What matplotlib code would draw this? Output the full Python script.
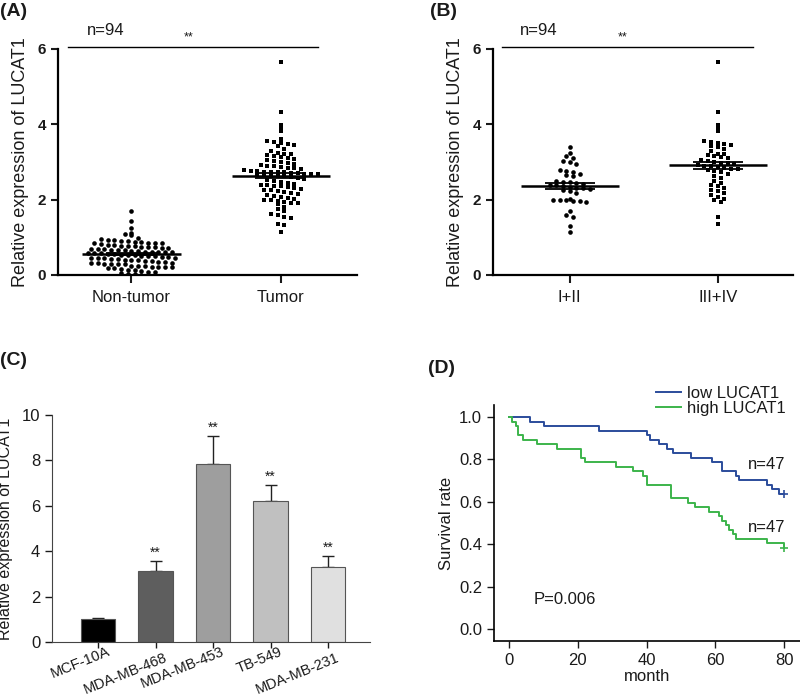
import matplotlib
matplotlib.use('Agg')
import numpy as np
import matplotlib.pyplot as plt

plt.rcParams['font.family'] = ['Liberation Sans', 'DejaVu Sans']
plt.rcParams['text.color'] = '#1a1a1a'
plt.rcParams['axes.labelcolor'] = '#1a1a1a'
plt.rcParams['xtick.color'] = '#1a1a1a'
plt.rcParams['ytick.color'] = '#1a1a1a'

# (A) LUCAT1 expression, tissue
non_tumor = [1.71, 1.44, 1.24, 1.12, 1.08, 1.05,
             0.98, 0.95, 0.93, 0.92, 0.90, 0.90, 0.88, 0.87, 0.86, 0.85, 0.85, 0.84,
             0.82, 0.80, 0.79, 0.78, 0.77, 0.76, 0.75, 0.74, 0.73, 0.72, 0.72,
             0.70, 0.69, 0.68, 0.67, 0.66, 0.65, 0.64, 0.63, 0.62, 0.62, 0.61, 0.60, 0.60,
             0.58, 0.58, 0.57, 0.56, 0.55, 0.54, 0.53, 0.52, 0.51, 0.50, 0.50,
             0.48, 0.47, 0.46, 0.45, 0.45, 0.44, 0.43, 0.42, 0.41, 0.40, 0.40, 0.38,
             0.36, 0.35, 0.34, 0.33, 0.32, 0.31, 0.30, 0.30, 0.29, 0.28,
             0.25, 0.24, 0.23, 0.22, 0.21, 0.20, 0.20, 0.19, 0.18,
             0.15, 0.13, 0.12, 0.10, 0.09, 0.08,
             0.05, 0.03, 0.02, 0.01]
tumor = [5.65, 4.33, 3.98, 3.88, 3.82,
         3.60, 3.55, 3.52, 3.50, 3.48, 3.45, 3.42, 3.35, 3.30,
         3.25, 3.22, 3.20, 3.18, 3.15, 3.12, 3.10, 3.08, 3.05, 3.02, 3.00,
         2.98, 2.95, 2.92, 2.90, 2.88, 2.86, 2.85, 2.83, 2.80,
         2.78, 2.76, 2.75, 2.74, 2.73, 2.72, 2.72, 2.71, 2.70, 2.69, 2.68, 2.67,
         2.66, 2.65, 2.64, 2.63, 2.62, 2.60, 2.58,
         2.55, 2.52, 2.50, 2.48,
         2.45, 2.42, 2.40, 2.38, 2.36, 2.35, 2.33, 2.30, 2.28, 2.26, 2.25, 2.22,
         2.20, 2.18, 2.15, 2.12, 2.10, 2.08,
         2.05, 2.02, 2.00, 1.98, 1.96, 1.95, 1.92, 1.90, 1.88,
         1.80, 1.75, 1.70, 1.62, 1.58, 1.55, 1.50, 1.35, 1.32, 1.15]
tissue_names = ['Non-tumor', 'Tumor']

# (B) by clinical stage
stage_12 = [3.41, 3.25, 3.15, 3.10, 3.02, 3.00, 2.95,
            2.78, 2.75, 2.72, 2.68, 2.65, 2.62,
            2.50, 2.48, 2.46, 2.44, 2.42, 2.40, 2.38, 2.36, 2.34, 2.32, 2.30, 2.28,
            2.26, 2.22, 2.18,
            2.02, 2.00, 1.99, 1.98, 1.97, 1.96, 1.95,
            1.70, 1.60, 1.55, 1.30, 1.15]
stage_34 = [5.65, 4.33, 3.98, 3.88, 3.82,
            3.55, 3.52, 3.50, 3.48, 3.45, 3.42, 3.40, 3.35, 3.30,
            3.22, 3.20, 3.18, 3.15, 3.12, 3.10, 3.05, 3.02, 3.00,
            2.98, 2.96, 2.94, 2.92, 2.90, 2.88, 2.86, 2.84, 2.82, 2.80,
            2.78, 2.75, 2.72, 2.68, 2.62, 2.58, 2.50,
            2.45, 2.40, 2.35, 2.30, 2.25, 2.22, 2.18, 2.12, 2.08,
            2.02, 1.98, 1.95, 1.55, 1.35]
stage_names = ['I+II', 'III+IV']

# (C) cell lines
cell_lines = ['MCF-10A', 'MDA-MB-468', 'MDA-MB-453', 'TB-549', 'MDA-MB-231']
cell_expr = [1.0, 3.12, 7.85, 6.22, 3.30]
cell_err = [0.07, 0.43, 1.22, 0.68, 0.48]
cell_colors = ['#000000', '#5e5e5e', '#9e9e9e', '#c0c0c0', '#e0e0e0']

# (D) Kaplan-Meier steps
low_t = [0, 6, 10, 26, 40.2, 41, 43.5, 46, 47.8, 53, 59, 62, 66, 67, 75, 76.5, 78.5, 80]
low_s = [1.0, 0.979, 0.957, 0.936, 0.915, 0.894, 0.872, 0.851, 0.830, 0.809,
         0.787, 0.745, 0.723, 0.702, 0.681, 0.660, 0.638, 0.638]
high_t = [0, 0.8, 1.9, 2.7, 3.9, 8, 14, 21, 22, 31, 36, 39, 40, 47, 52, 54, 58,
          61, 62, 63, 64, 65, 66, 75, 80]
high_s = [1.0, 0.979, 0.957, 0.915, 0.894, 0.872, 0.851, 0.809, 0.787, 0.766,
          0.745, 0.723, 0.681, 0.617, 0.596, 0.574, 0.553, 0.532, 0.511, 0.489,
          0.468, 0.447, 0.426, 0.404, 0.383]


def swarm_x(vals, center, step=0.045, binw=0.13):
    vals = np.asarray(vals)
    xs = np.zeros(len(vals))
    bins = np.round(vals / binw).astype(int)
    for b in np.unique(bins):
        idx = np.where(bins == b)[0]
        n = len(idx)
        xs[idx] = center + (np.arange(n) - (n - 1) / 2) * step
    return xs


def dot_panel(ax, groups, names, markers, xlim, sig_span, n_x, star_x):
    for i, (vals, mk) in enumerate(zip(groups, markers)):
        xs = swarm_x(vals, i)
        ax.scatter(xs, vals, s=11, marker=mk, color='black', linewidths=0, zorder=3)
        m = np.mean(vals)
        sem = np.std(vals, ddof=1) / np.sqrt(len(vals))
        ax.hlines(m, i - 0.33, i + 0.33, color='black', lw=1.8, zorder=4)
        ax.hlines([m - sem, m + sem], i - 0.17, i + 0.17, color='black', lw=1.3, zorder=4)
    ax.set_xlim(*xlim)
    ax.set_ylim(0, 6)
    ax.set_yticks([0, 2, 4, 6])
    ax.set_yticklabels(['0', '2', '4', '6'], fontweight='bold', fontsize=11)
    ax.set_xticks(range(len(names)))
    ax.set_xticklabels(names, fontsize=12)
    ax.tick_params(axis='y', width=1.5, length=5)
    ax.tick_params(axis='x', width=1.5, length=6, pad=5)
    ax.spines['top'].set_visible(False)
    ax.spines['right'].set_visible(False)
    ax.spines['left'].set_linewidth(1.6)
    ax.spines['bottom'].set_linewidth(1.6)
    ax.set_ylabel('Relative expression of LUCAT1', fontsize=13, labelpad=6)
    ax.plot(sig_span, [6.05, 6.05], color='black', lw=1.0, clip_on=False)
    ax.text(n_x, 6.5, 'n=94', fontsize=12, ha='center', va='center')
    ax.text(star_x, 6.3, '**', fontsize=9, ha='center', va='center')


fig = plt.figure(figsize=(8, 6.97), dpi=100)

axA = fig.add_axes([0.0725, 0.6055, 0.374, 0.3243])
dot_panel(axA, [non_tumor, tumor], tissue_names, ['o', 's'], (-0.49, 1.51),
          [-0.42, 1.25], -0.17, 0.38)

axB = fig.add_axes([0.616, 0.6055, 0.375, 0.3243])
dot_panel(axB, [stage_12, stage_34], stage_names, ['o', 's'], (-0.52, 1.507),
          [-0.46, 1.24], -0.21, 0.36)

# (C) bar chart
axC = fig.add_axes([0.065, 0.0789, 0.3975, 0.3257])
xc = np.arange(len(cell_lines))
axC.bar(xc, cell_expr, width=0.6, color=cell_colors, edgecolor='#555555', linewidth=0.8, zorder=2)
axC.errorbar(xc, cell_expr, yerr=[np.zeros(len(cell_err)), cell_err], fmt='none',
             ecolor='#222222', elinewidth=1.0, capsize=4, capthick=1.0, zorder=1)
for i in range(1, len(cell_lines)):
    axC.annotate('**', (xc[i], cell_expr[i] + cell_err[i]), xytext=(0, 1),
                 textcoords='offset points', ha='center', va='bottom', fontsize=10)
axC.set_xlim(-0.8, 4.73)
axC.set_ylim(0, 10)
axC.set_yticks([0, 2, 4, 6, 8, 10])
axC.set_xticks(xc)
axC.set_xticklabels([])
for i, name in enumerate(cell_lines):
    dy = -6 if i in (1, 4) else -2
    axC.annotate(name, xy=(xc[i], 0), xycoords=('data', 'axes fraction'),
                 xytext=(6, dy), textcoords='offset points', rotation=22,
                 ha='right', va='top', rotation_mode='anchor', fontsize=10.5)
axC.tick_params(axis='y', labelsize=12, width=1.0, length=5)
axC.tick_params(axis='x', width=1.0, length=4)
axC.spines['top'].set_visible(False)
axC.spines['right'].set_visible(False)
axC.spines['left'].set_color('#444444')
axC.spines['bottom'].set_color('#444444')
axC.set_ylabel('Relative expression of LUCAT1', fontsize=11.5, labelpad=6)

# (D) survival
axD = fig.add_axes([0.6175, 0.0803, 0.3825, 0.3386])
l1, = axD.step(low_t, low_s, where='post', color='#2b4c9b', lw=1.4, label='low LUCAT1')
l2, = axD.step(high_t, high_s, where='post', color='#3cb44b', lw=1.4, label='high LUCAT1')
axD.plot(low_t[-1], low_s[-1], marker='+', color='#2b4c9b', ms=6, mew=1.2)
axD.plot(high_t[-1], high_s[-1], marker='+', color='#3cb44b', ms=6, mew=1.2)
axD.set_xlim(-4.4, 84.6)
axD.set_ylim(-0.057, 1.057)
axD.set_xticks([0, 20, 40, 60, 80])
axD.set_yticks([0.0, 0.2, 0.4, 0.6, 0.8, 1.0])
axD.set_yticklabels(['%.1f' % v for v in [0.0, 0.2, 0.4, 0.6, 0.8, 1.0]])
axD.tick_params(labelsize=12, width=1.0, length=5)
axD.spines['top'].set_visible(False)
axD.spines['right'].set_visible(False)
axD.spines['left'].set_linewidth(1.2)
axD.spines['bottom'].set_linewidth(1.2)
axD.set_xlabel('month', fontsize=12, labelpad=1)
axD.set_ylabel('Survival rate', fontsize=12, labelpad=4)
axD.text(69.5, 0.775, 'n=47', fontsize=12, va='center')
axD.text(69.5, 0.48, 'n=47', fontsize=12, va='center')
axD.text(7, 0.14, 'P=0.006', fontsize=12, va='center')
axD.legend(handles=[l1, l2], loc='upper right', bbox_to_anchor=(0.955, 1.08),
           frameon=False, fontsize=12, handlelength=1.5, handletextpad=0.4,
           labelspacing=0.0, borderpad=0, borderaxespad=0)

# panel letters
for x, y, letter in [(0.0, 0.983, '(A)'), (0.537, 0.983, '(B)'),
                     (0.0, 0.483, '(C)'), (0.535, 0.472, '(D)')]:
    fig.text(x, y, letter, fontsize=14, fontweight='bold', va='center', ha='left')

plt.savefig('out.png', dpi=100)
